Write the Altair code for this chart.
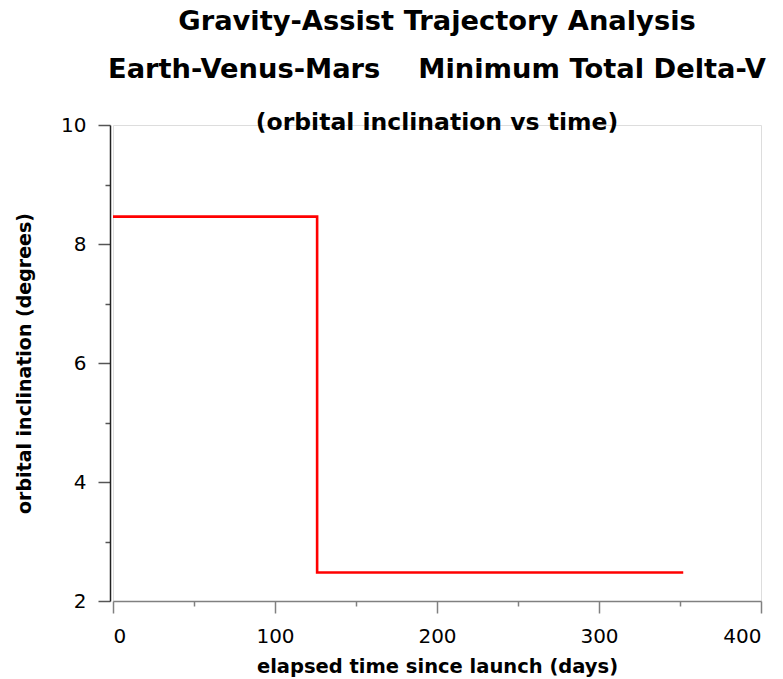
import altair as alt
import pandas as pd

# data
days = [0, 126, 352]
inclination = [8.46, 2.48, 2.48]

x_ticks = [0, 50, 100, 150, 200, 250, 300, 350, 400]
y_ticks = [2, 3, 4, 5, 6, 7, 8, 9, 10]

title_lines = ["Gravity-Assist Trajectory Analysis",
               "Earth-Venus-Mars\u00a0\u00a0\u00a0\u00a0Minimum Total Delta-V"]
subtitle = "(orbital inclination vs time)"
x_title = "elapsed time since launch (days)"
y_title = "orbital inclination (degrees)"

df = pd.DataFrame({"t": days, "inc": inclination})

FONT = "DejaVu Sans"

chart = alt.Chart(df).mark_line(
    interpolate="step-after", color="#ff0000", strokeWidth=2.6
).encode(
    x=alt.X("t:Q", scale=alt.Scale(domain=[0, 400], nice=False),
            axis=alt.Axis(
                title=x_title, values=x_ticks, grid=False,
                labelExpr="datum.value % 100 === 0 ? datum.label : ''",
                tickSize={"condition": {"test": "datum.value % 100 === 0", "value": 12}, "value": 5},
                domainColor="#808080", tickColor="#808080", tickWidth=1.5, domainWidth=1.5,
                labelFont=FONT, labelFontSize=20, labelColor="#000000", labelPadding=13,
                titleFont=FONT, titleFontSize=19.5, titleFontWeight="bold", titleColor="#000000",
                titlePadding=11)),
    y=alt.Y("inc:Q", scale=alt.Scale(domain=[2, 10], nice=False),
            axis=alt.Axis(
                title=y_title, values=y_ticks, grid=False, offset=3,
                labelExpr="datum.value % 2 === 0 ? datum.label : ''",
                tickSize={"condition": {"test": "datum.value % 2 === 0", "value": 12}, "value": 5},
                domainColor="#222222", tickColor="#555555", tickWidth=1.5, domainWidth=1.5,
                labelFont=FONT, labelFontSize=20, labelColor="#000000", labelPadding=12,
                titleFont=FONT, titleFontSize=19, titleFontWeight="bold", titleColor="#000000",
                titlePadding=26)),
).properties(
    width=648, height=476,
    autosize=alt.AutoSizeParams(type="none"),
    padding={"left": 113, "top": 125, "right": 22, "bottom": 78},
    title=alt.TitleParams(
        text=title_lines, subtitle=subtitle,
        font=FONT, fontSize=27.3, fontWeight="bold", color="#000000", lineHeight=48,
        subtitleFont=FONT, subtitleFontSize=23.5, subtitleFontWeight="bold",
        subtitleColor="#000000", subtitlePadding=27,
        anchor="middle", offset=-19),
).configure_view(stroke=None).configure(background="white")

chart.save("out.html", embed_options={"renderer": "svg", "actions": False})
